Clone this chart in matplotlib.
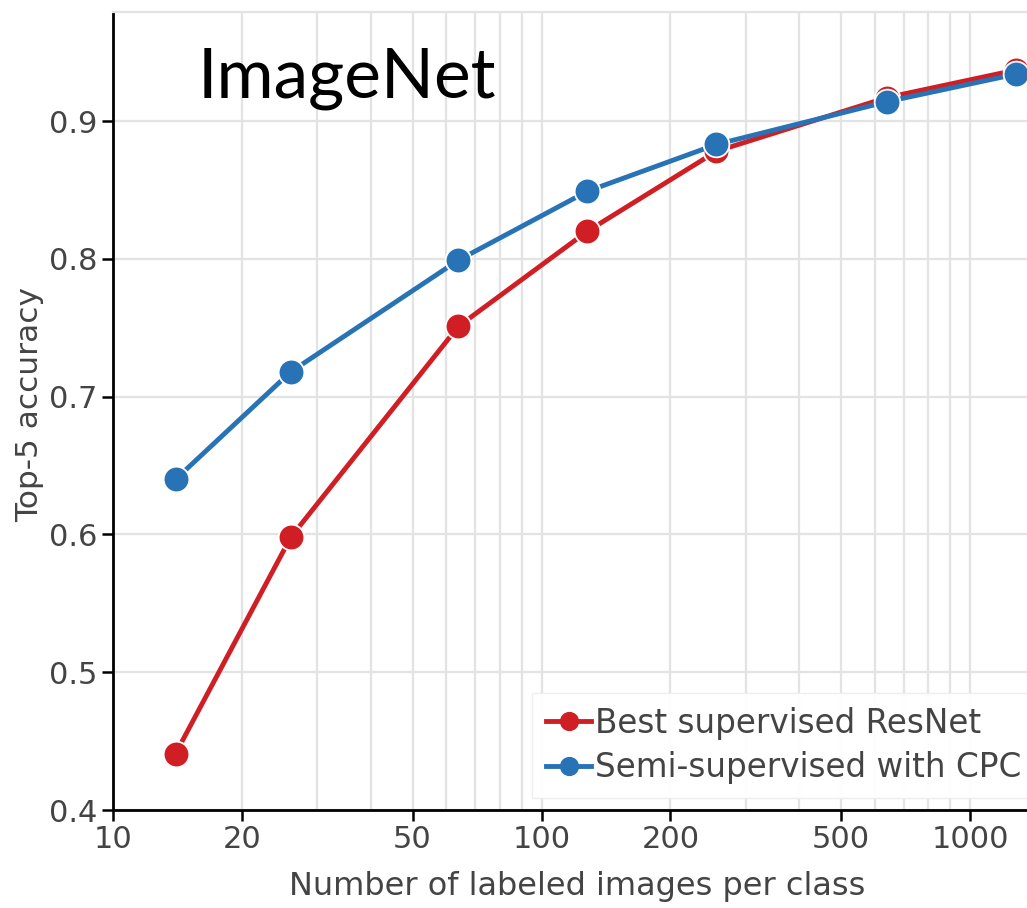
import math
import matplotlib
matplotlib.use("Agg")
import matplotlib.pyplot as plt
from matplotlib.ticker import FixedLocator, FixedFormatter, NullFormatter

# Data
images_per_class = [14, 26, 64, 128, 256, 640, 1280]
supervised = [0.441, 0.598, 0.751, 0.820, 0.878, 0.917, 0.937]
cpc = [0.640, 0.718, 0.799, 0.849, 0.883, 0.914, 0.934]
series_labels = ["Best supervised ResNet", "Semi-supervised with CPC"]
x_ticks = [10, 20, 50, 100, 200, 500, 1000]
y_ticks = [0.4, 0.5, 0.6, 0.7, 0.8, 0.9]

RED = "#d01f24"
BLUE = "#2873b5"
GRID = "#e3e3e3"
TXT = "#444444"

plt.rcParams["font.family"] = ["DejaVu Sans"]

fig = plt.figure(figsize=(10.27, 9.08), dpi=100)
W, H = 1027, 908
left, bottom, top = 113, 810, 12
xmin, xmax = 10, 2000
decade_px = 428.5
width_px = (math.log10(xmax) - math.log10(xmin)) * decade_px
ax = fig.add_axes([left / W, (H - bottom) / H, width_px / W, (bottom - top) / H])
ax.set_xscale("log")
ax.set_xlim(xmin, xmax)
ax.set_ylim(0.4, 0.4 + (bottom - top) / 1378.0)

ax.plot(images_per_class, supervised, color=RED, lw=3.5, marker="o", ms=18.5,
        mec="white", mew=1.3, label=series_labels[0], zorder=3, clip_on=False)
ax.plot(images_per_class, cpc, color=BLUE, lw=3.5, marker="o", ms=18.5,
        mec="white", mew=1.3, label=series_labels[1], zorder=4, clip_on=False)

ax.xaxis.set_major_locator(FixedLocator(x_ticks))
ax.xaxis.set_major_formatter(FixedFormatter([str(t) for t in x_ticks]))
ax.xaxis.set_minor_formatter(NullFormatter())
ax.set_yticks(y_ticks)
ax.set_yticklabels([f"{t:.1f}" for t in y_ticks])

ax.grid(True, which="both", axis="x", color=GRID, lw=1.6)
ax.grid(True, which="major", axis="y", color=GRID, lw=1.6)
ax.set_axisbelow(True)
ax.tick_params(axis="x", which="minor", length=0)
ax.tick_params(axis="both", which="major", direction="out", length=8, width=1.8,
               color="black", labelcolor=TXT, labelsize=22, pad=3)

ax.spines["right"].set_visible(False)
ax.spines["top"].set_color(GRID)
ax.spines["top"].set_linewidth(1.6)
for s in ["left", "bottom"]:
    ax.spines[s].set_color("black")
    ax.spines[s].set_linewidth(2.0)

fig.text(577 / W, (H - 886) / H, "Number of labeled images per class", fontsize=23,
         color=TXT, ha="center", va="center")
fig.text(30 / W, (H - 405) / H, "Top-5 accuracy", rotation=90, fontsize=22.5,
         color=TXT, ha="center", va="center")

fig.text(198 / W, (H - 97) / H, "ImageNet", fontsize=50, family=["Lato", "DejaVu Sans"],
         color="black", ha="left", va="baseline")

leg = ax.legend(loc="upper left", bbox_to_anchor=(532 / W, (H - 693) / H),
                bbox_transform=fig.transFigure, fontsize=23.5, frameon=True,
                markerscale=0.75, handlelength=1.4, handletextpad=0.1,
                borderpad=0.42, labelspacing=0.36, borderaxespad=0,
                fancybox=False, labelcolor=TXT)
leg.get_frame().set_edgecolor("#eeeeee")
leg.get_frame().set_alpha(0.95)
for h in leg.legend_handles:
    h.set_markeredgewidth(0)

fig.savefig("out.png", dpi=100)
